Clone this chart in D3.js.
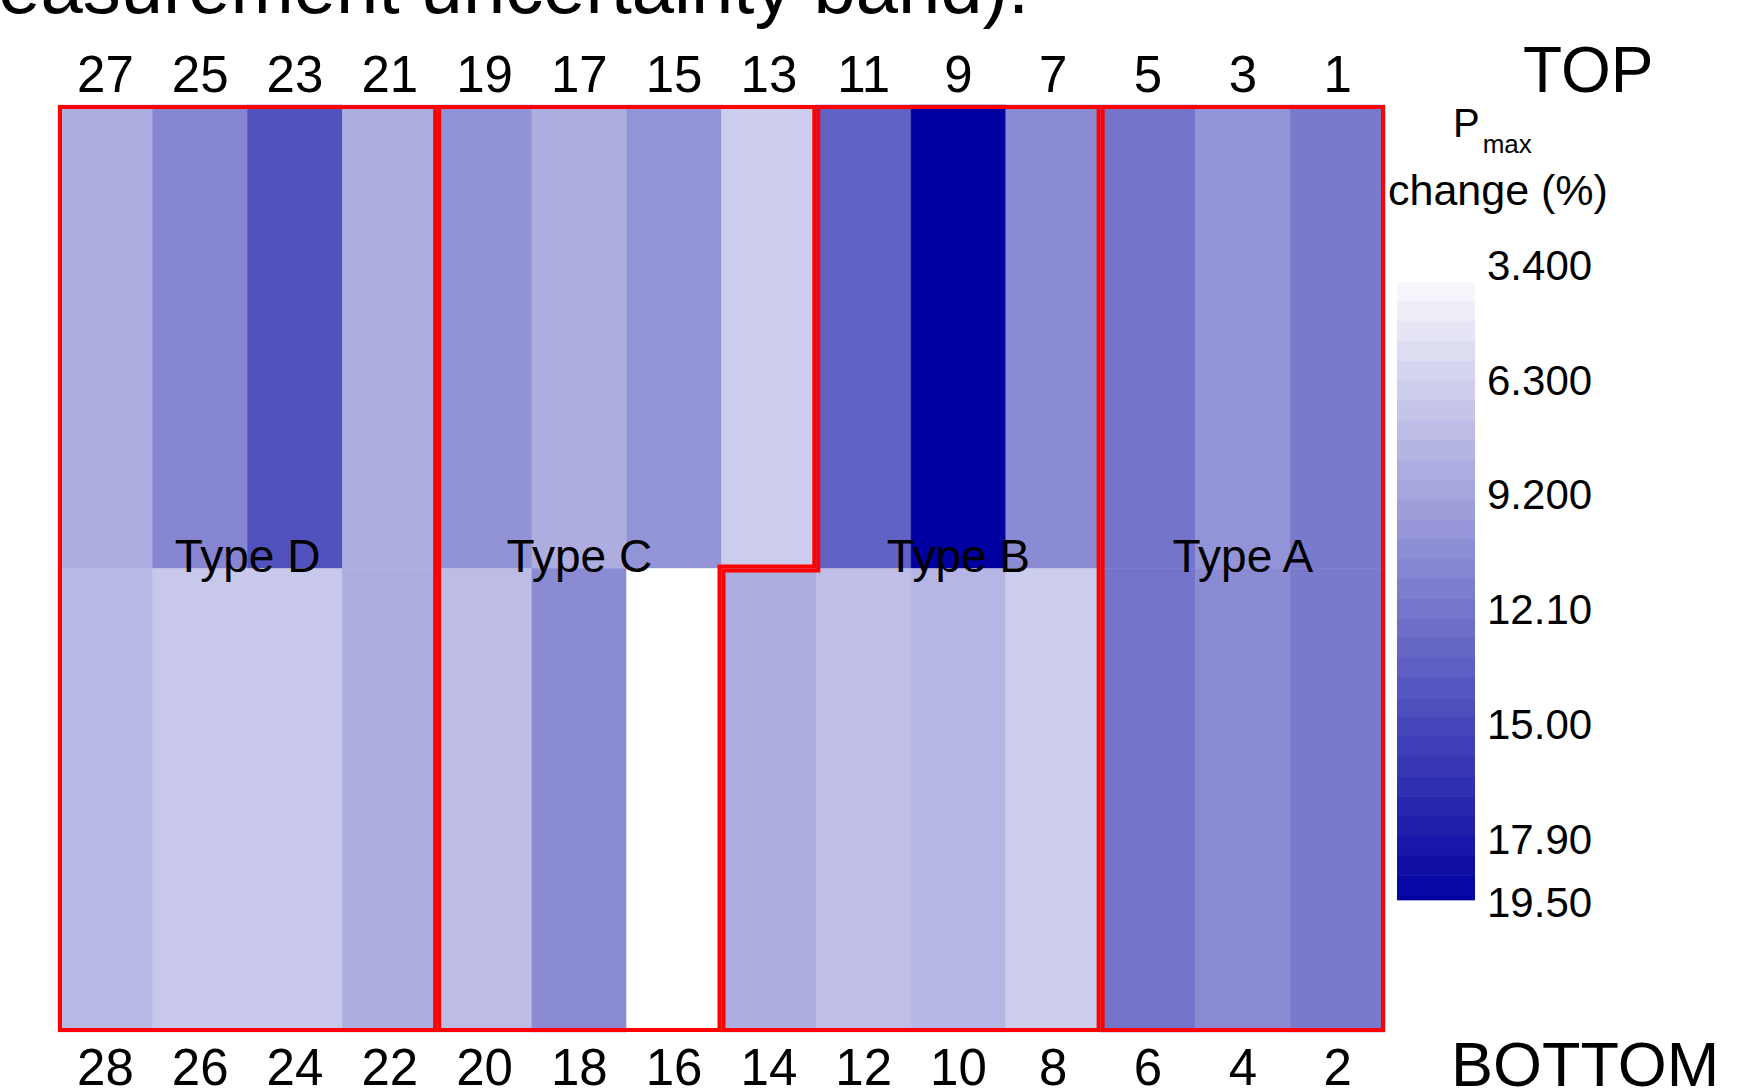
<!DOCTYPE html>
<html>
<head>
<meta charset="utf-8">
<script src="https://cdn.jsdelivr.net/npm/d3@7/dist/d3.min.js"></script>
<style>
  body { margin: 0; background: #fff; }
  svg { display: block; font-family: "Liberation Sans", Arial, sans-serif; }
</style>
</head>
<body>
<svg id="chart" width="1763" height="1089"></svg>
<script>
const width = 1763;
const height = 1089;

// cell numbers, left to right
const topIds = [27, 25, 23, 21, 19, 17, 15, 13, 11, 9, 7, 5, 3, 1];
const bottomIds = [28, 26, 24, 22, 20, 18, 16, 14, 12, 10, 8, 6, 4, 2];

// Pmax change (%)
const topValues = [8.6, 11.1, 14.3, 8.6, 10.3, 8.6, 10.2, 6.6, 13.3, 19.5, 10.7, 12.2, 10.2, 11.8];
const bottomValues = [7.8, 6.9, 6.9, 8.6, 7.6, 10.7, 3.4, 8.6, 7.5, 8.0, 6.6, 12.2, 10.7, 11.8];

// which type each cell belongs to
const topTypes = ["D", "D", "D", "D", "C", "C", "C", "C", "B", "B", "B", "A", "A", "A"];
const bottomTypes = ["D", "D", "D", "D", "C", "C", "C", "B", "B", "B", "B", "A", "A", "A"];
const typeKeys = ["D", "C", "B", "A"];
const typeNames = ["Type D", "Type C", "Type B", "Type A"];

const rows = ["TOP", "BOTTOM"];

// colour bar
const legendMin = 3.4;
const legendMax = 19.5;
const legendTicks = [3.4, 6.3, 9.2, 12.1, 15.0, 17.9, 19.5];
const legendTickLabels = ["3.400", "6.300", "9.200", "12.10", "15.00", "17.90", "19.50"];

const cells = [];
topIds.forEach((id, i) => cells.push({ id: id, col: i, row: "TOP", value: topValues[i], type: topTypes[i] }));
bottomIds.forEach((id, i) => cells.push({ id: id, col: i, row: "BOTTOM", value: bottomValues[i], type: bottomTypes[i] }));

const svg = d3.select("#chart");
svg.append("rect").attr("width", width).attr("height", height).attr("fill", "#fff");

const x = d3.scaleBand().domain(d3.range(topIds.length)).range([58, 1385]);
const y = d3.scaleBand().domain(rows).range([105, 1032]);
const color = d3.scaleLinear().domain([legendMin, legendMax]).range(["#ffffff", "#0000a0"]);

// slide title, cut off at the top of the picture
svg.append("text")
  .attr("x", 1029)
  .attr("y", 13)
  .attr("text-anchor", "end")
  .attr("font-size", 76)
  .text("measurement uncertainty band).");

// cells
svg.append("g")
  .selectAll("rect")
  .data(cells)
  .join("rect")
  .attr("x", d => x(d.col))
  .attr("y", d => y(d.row))
  .attr("width", x.bandwidth())
  .attr("height", y.bandwidth())
  .attr("fill", d => color(d.value))
  .attr("stroke", d => color(d.value))
  .attr("stroke-width", 0.5);

// column numbers
const topAxis = d3.axisTop(x).tickSize(0).tickPadding(13).tickFormat(i => topIds[i]);
const bottomAxis = d3.axisBottom(x).tickSize(0).tickPadding(17).tickFormat(i => bottomIds[i]);

svg.append("g").attr("transform", `translate(0,${y("TOP")})`).call(topAxis)
  .call(g => g.select(".domain").remove())
  .selectAll("text").attr("font-size", 51).attr("font-family", null).attr("fill", "#000");
svg.append("g").attr("transform", `translate(0,${y("BOTTOM") + y.bandwidth()})`).call(bottomAxis)
  .call(g => g.select(".domain").remove())
  .selectAll("text").attr("font-size", 51).attr("font-family", null).attr("fill", "#000");

// type outlines, built from the cells of each type
const yTop = y("TOP"), yMid = y("BOTTOM"), yBot = y("BOTTOM") + y.bandwidth();
const defs = svg.append("defs");

typeKeys.forEach((k, gi) => {
  const tc = cells.filter(c => c.type === k && c.row === "TOP").map(c => c.col);
  const bc = cells.filter(c => c.type === k && c.row === "BOTTOM").map(c => c.col);
  const a = d3.min(tc), b = d3.max(tc) + 1;
  const c0 = d3.min(bc), d1 = d3.max(bc) + 1;
  const xe = i => x(i) === undefined ? x.range()[1] : x(i);

  const pts = [
    [xe(a), yTop], [xe(b), yTop], [xe(b), yMid], [xe(d1), yMid],
    [xe(d1), yBot], [xe(c0), yBot], [xe(c0), yMid], [xe(a), yMid]
  ];
  const line = d3.line();
  const pathD = line(pts) + "Z";

  defs.append("clipPath").attr("id", "clip" + k)
    .append("path").attr("d", pathD);

  svg.append("path")
    .attr("d", pathD)
    .attr("fill", "none")
    .attr("stroke", "#ff0000")
    .attr("stroke-width", 8)
    .attr("clip-path", `url(#clip${k})`);

  // label sits over the columns the type has in both rows
  const lo = Math.max(a, c0), hi = Math.min(b, d1);
  svg.append("text")
    .attr("x", (xe(lo) + xe(hi)) / 2)
    .attr("y", 572)
    .attr("text-anchor", "middle")
    .attr("font-size", 46)
    .text(typeNames[gi]);
});

// TOP / BOTTOM
svg.append("text").attr("x", 1523).attr("y", 92).attr("font-size", 64).text("TOP");
svg.append("text").attr("x", 1451).attr("y", 1086).attr("font-size", 63).text("BOTTOM");

// legend title
const lt = svg.append("text").attr("x", 1453).attr("y", 137).attr("font-size", 40);
lt.append("tspan").text("P");
lt.append("tspan").attr("dx", 3).attr("dy", 16).attr("font-size", 26).text("max");
svg.append("text").attr("x", 1388).attr("y", 205).attr("font-size", 43).text("change (%)");

// colour bar
const ly = d3.scaleLinear().domain([legendMin, legendMax]).range([266, 903]);
const barX = 1397, barW = 78;
const steps = d3.range(3.8, 19.4, 0.5);
svg.append("g")
  .selectAll("rect")
  .data(steps)
  .join("rect")
  .attr("x", barX)
  .attr("y", d => ly(d))
  .attr("width", barW)
  .attr("height", d => Math.min(ly(d + 0.5), ly(19.42)) - ly(d) + 0.5)
  .attr("fill", d => color(d + 0.25));

const legendAxis = d3.axisRight(ly).tickValues(legendTicks).tickSize(0).tickPadding(12)
  .tickFormat((d, i) => legendTickLabels[i]);
svg.append("g").attr("transform", `translate(${barX + barW},0)`).call(legendAxis)
  .call(g => g.select(".domain").remove())
  .selectAll("text").attr("font-size", 42).attr("font-family", null).attr("fill", "#000");
</script>
</body>
</html>
